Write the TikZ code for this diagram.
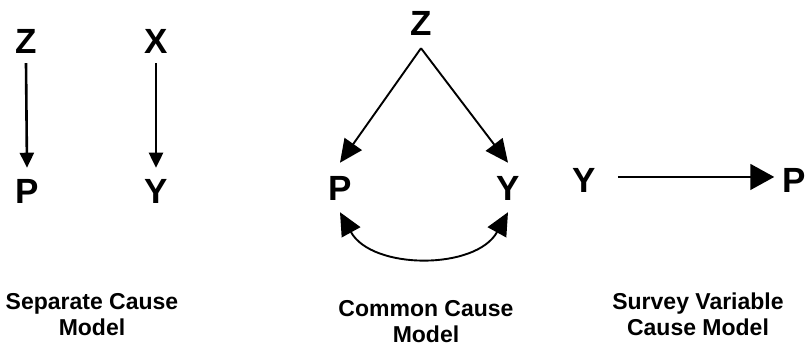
\documentclass[tikz,border=0pt]{standalone}
\usepackage{fontspec}
\setmainfont{Liberation Sans}
\usetikzlibrary{arrows.meta}
\begin{document}
\begin{tikzpicture}[x=1pt,y=-1pt,
  lbl/.style={font=\fontsize{35}{35}\selectfont\bfseries, inner sep=0pt, anchor=base},
  modeltitle/.style={font=\fontsize{23}{26}\selectfont\bfseries, inner sep=0pt, anchor=north, align=center},
  arrL/.style={line width=2.6pt, -{Triangle[length=15pt,width=14pt]}},
  arrC/.style={line width=1.9pt, -{Triangle[length=23pt,width=21pt]}},
  arrA/.style={line width=1.9pt, {Triangle[length=23pt,width=21pt]}-{Triangle[length=23pt,width=21pt]}},
  arrR/.style={line width=1.6pt, -{Triangle[length=24pt,width=26pt]}}]
\useasboundingbox (0,0) rectangle (807,346);
% Separate cause model
\node[lbl] (z1) at (26,53) {Z};
\node[lbl] (x1) at (156,53) {X};
\node[lbl] (p1) at (27,203) {P};
\node[lbl] (y1) at (156,203) {Y};
\draw[arrL] ([yshift=-10pt]z1.south) -- ([yshift=11pt]p1.north);
\draw[arrL] ([yshift=-10pt]x1.south) -- ([yshift=11pt]y1.north);
\node[modeltitle] (c1) at (92,293) {Separate Cause\\Model};
% Common cause model
\node[lbl] (z2) at (421,35) {Z};
\node[lbl] (p2) at (340,200) {P};
\node[lbl] (y2) at (508,200) {Y};
\coordinate (apex) at ([yshift=-13pt]z2.south);
\draw[arrC] (apex) -- ([yshift=13pt]p2.north);
\draw[arrC] (apex) -- ([yshift=13pt]y2.north);
\draw[arrA] ([yshift=-12pt]p2.south) .. controls +(32,58) and +(-32,58) .. ([yshift=-12pt]y2.south);
\node[modeltitle] (c2) at (426,300) {Common Cause\\Model};
% Survey variable cause model
\node[lbl] (y3) at (584,192) {Y};
\node[lbl, anchor=base east] (p3) at (806,192) {P};
\draw[arrR] ([xshift=22pt,yshift=3pt]y3.east) -- ([xshift=-8pt,yshift=3pt]p3.west);
\node[modeltitle] (c3) at (698,293) {Survey Variable\\Cause Model};
\end{tikzpicture}
\end{document}
